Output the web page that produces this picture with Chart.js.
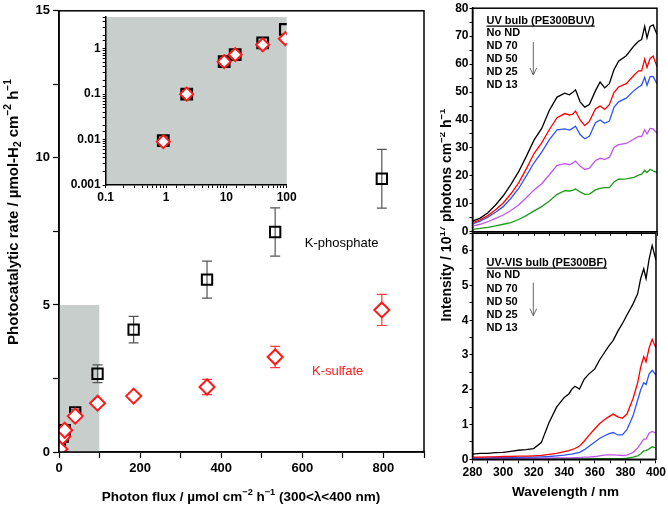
<!DOCTYPE html>
<html>
<head>
<meta charset="utf-8">
<script src="https://cdn.jsdelivr.net/npm/chart.js@4.4.1/dist/chart.umd.min.js"></script>
<style>
  body { margin: 0; background: #fff; }
  #wrap { position: relative; width: 668px; height: 506px; overflow: hidden; }
  canvas { position: absolute; }
</style>
</head>
<body>
<div id="wrap">
  <canvas id="mainChart" width="440" height="506" style="left:0;top:0"></canvas>
  <canvas id="insetChart" width="300" height="215" style="left:0;top:0"></canvas>
  <canvas id="specBottom" width="228" height="506" style="left:440px;top:0"></canvas>
  <canvas id="specTop" width="228" height="240" style="left:440px;top:0"></canvas>
</div>
<script>
// MAIN PLOT DATA - photon flux vs H2 rate
var fluxX = [0.9, 2.2, 9.2, 14, 40, 95, 184, 365, 533, 796];
var phosRate = [0.0095, 0.1, 0.52, 0.74, 1.35, 2.66, 4.16, 5.86, 7.48, 9.29];
var phosErr = [0.001, 0.01, 0.04, 0.06, 0.08, 0.3, 0.45, 0.63, 0.82, 1.0];
var sulfRate = [0.009, 0.1, 0.52, 0.74, 1.22, 1.66, 1.9, 2.21, 3.23, 4.83];
var sulfErr = [0.001, 0.01, 0.04, 0.05, 0.06, 0.1, 0.12, 0.26, 0.36, 0.53];
var shadeX = [0, 100];
var shadeTop = 5;

// SPECTRA - UV bulb (PE300BUV)
var topWl = [280, 285, 290, 295, 300, 305, 310, 315, 320, 325, 330, 335, 340, 343, 345, 347, 350, 353, 356, 360, 363, 366, 369, 372, 375, 380, 385, 388, 390, 392, 393.5, 395.5, 397.5, 400];
var topNoND = [3.8, 4.9, 6.8, 9.6, 12.9, 17, 21.5, 27, 32.8, 37, 43.5, 48.2, 49.6, 49, 49.8, 50.8, 46.5, 44.6, 45.5, 50.5, 53.6, 51.5, 53, 58, 61, 63, 66.5, 68.2, 68.8, 73.5, 69.4, 73.5, 74, 70.6];
var topND70 = [3.2, 4.3, 5.8, 7.9, 10.3, 13.6, 17.5, 22.5, 28, 31.8, 36.6, 40.8, 42.3, 41.8, 42, 43.2, 40, 38, 39.5, 44, 45, 43.8, 45.5, 49.8, 51.8, 53, 56, 57.6, 57.6, 61.8, 58.8, 62, 62.9, 59];
var topND50 = [2.8, 3.8, 5.2, 7, 9, 12, 15.5, 20, 24.7, 28.5, 33, 36.5, 36.8, 36.4, 37, 37.8, 34.8, 33.3, 34.2, 39, 40, 38.8, 39.6, 44.5, 46.5, 47.8, 50.5, 51.8, 52.4, 55.3, 52.4, 55.5, 55.6, 52.9];
var topND25 = [2.0, 2.7, 3.6, 4.8, 6, 7.6, 9.6, 12.2, 15, 17.2, 20.4, 23.8, 24.4, 24, 24.5, 25.3, 23.5, 22.3, 22.8, 25.5, 26.3, 25.9, 26.6, 30.2, 31.2, 31.6, 33.2, 34.1, 34.1, 36.5, 35, 37, 36.8, 35.3];
var topND13 = [0.9, 1.2, 1.6, 2.1, 2.7, 3.3, 4.4, 5.8, 7.5, 9, 11, 13.4, 14.7, 14.6, 14.8, 15.3, 14.3, 13.4, 13.5, 15, 15.5, 15.8, 15.8, 17.8, 18.8, 18.9, 19.5, 20.3, 20.6, 22, 21.2, 22.4, 21.8, 21.2];

// SPECTRA - UV-VIS bulb (PE300BF)
var botWl = [280, 285, 290, 295, 300, 305, 310, 315, 320, 325, 330, 335, 340, 343, 345, 347, 350, 353, 356, 360, 363, 366, 369, 372, 375, 378, 381, 385, 388, 390, 392, 393.5, 395.5, 397.5, 400];
var botNoND = [0.15, 0.17, 0.17, 0.19, 0.2, 0.23, 0.26, 0.28, 0.31, 0.48, 1.05, 1.5, 1.78, 1.88, 2.02, 2.1, 2.02, 2.3, 2.45, 2.6, 2.85, 3.05, 3.25, 3.42, 3.68, 3.9, 4.15, 4.47, 4.76, 5.2, 5.48, 5.2, 5.76, 6.15, 5.72];
var botND70 = [0.06, 0.06, 0.07, 0.07, 0.08, 0.08, 0.09, 0.09, 0.1, 0.11, 0.14, 0.17, 0.22, 0.25, 0.28, 0.31, 0.38, 0.52, 0.68, 0.88, 1.02, 1.13, 1.22, 1.3, 1.22, 1.18, 1.3, 1.75, 2.2, 2.65, 2.95, 2.8, 3.2, 3.45, 3.2];
var botND50 = [0.04, 0.04, 0.04, 0.05, 0.05, 0.05, 0.05, 0.06, 0.06, 0.07, 0.08, 0.1, 0.12, 0.14, 0.15, 0.17, 0.2, 0.27, 0.37, 0.5, 0.6, 0.67, 0.73, 0.77, 0.7, 0.7, 0.85, 1.25, 1.7, 2.0, 2.2, 2.15, 2.45, 2.56, 2.42];
var botND25 = [0.02, 0.02, 0.02, 0.02, 0.02, 0.02, 0.03, 0.03, 0.03, 0.03, 0.03, 0.04, 0.04, 0.04, 0.04, 0.05, 0.05, 0.06, 0.06, 0.08, 0.1, 0.12, 0.13, 0.13, 0.12, 0.11, 0.12, 0.2, 0.32, 0.45, 0.58, 0.58, 0.75, 0.8, 0.75];
var botND13 = [0.01, 0.01, 0.01, 0.01, 0.01, 0.01, 0.01, 0.01, 0.01, 0.01, 0.01, 0.01, 0.01, 0.01, 0.01, 0.01, 0.01, 0.01, 0.01, 0.02, 0.02, 0.02, 0.02, 0.02, 0.02, 0.02, 0.03, 0.06, 0.1, 0.16, 0.24, 0.25, 0.3, 0.36, 0.33];

var legendNames = ["No ND", "ND 70", "ND 50", "ND 25", "ND 13"];
var lineColors = ["#000000", "#ff0000", "#2f55f5", "#c255ee", "#1f9a1f"];

var FONT = '"Liberation Sans", Arial, sans-serif';
var SHADE = "#c7cecb";

// helpers
function pts(xs, ys) {
  return xs.map(function (x, i) { return { x: x, y: ys[i] }; });
}
function errPts(xs, ys, es) {
  var out = [];
  xs.forEach(function (x, i) {
    out.push({ x: x, y: ys[i] - es[i] });
    out.push({ x: x, y: ys[i] + es[i] });
    out.push({ x: x, y: null });
  });
  return out;
}
function drawRich(ctx, parts, x, y, size, angle) {
  ctx.save();
  ctx.translate(x, y);
  ctx.rotate(angle || 0);
  ctx.textBaseline = "middle";
  ctx.textAlign = "left";
  ctx.fillStyle = "#000";
  var total = 0;
  parts.forEach(function (p) {
    ctx.font = "bold " + (p[1] ? size * 0.68 : size) + "px " + FONT;
    total += ctx.measureText(p[0]).width;
  });
  var cx = -total / 2;
  parts.forEach(function (p) {
    ctx.font = "bold " + (p[1] ? size * 0.68 : size) + "px " + FONT;
    var dy = p[1] === "sup" ? -size * 0.35 : (p[1] === "sub" ? size * 0.3 : 0);
    ctx.fillText(p[0], cx, dy);
    cx += ctx.measureText(p[0]).width;
  });
  ctx.restore();
}
var framePlugin = {
  id: "frame",
  afterDraw: function (chart) {
    var a = chart.chartArea, ctx = chart.ctx;
    ctx.save();
    ctx.strokeStyle = "#000";
    ctx.lineWidth = 1.5;
    ctx.strokeRect(a.left, a.top, a.right - a.left, a.bottom - a.top);
    ctx.restore();
  }
};
function fixW(w) { return function (s) { s.width = w; }; }
function fixH(h) { return function (s) { s.height = h; }; }
function tickFont(sz) { return { family: FONT, size: sz, weight: "bold" }; }

// MAIN CHART
new Chart(document.getElementById("mainChart"), {
  type: "scatter",
  data: {
    datasets: [
      {
        label: "K-sulfate", data: pts(fluxX, sulfRate), pointStyle: "rectRot",
        pointRadius: 7.5, borderColor: "#ff1a1a", backgroundColor: "#fff", borderWidth: 2, clip: 0
      },
      {
        label: "K-phosphate", data: pts(fluxX, phosRate), pointStyle: "rect",
        pointRadius: 7.3, borderColor: "#000", backgroundColor: "rgba(0,0,0,0)", borderWidth: 2, clip: 0
      },
      {
        type: "line", data: errPts(fluxX, sulfRate, sulfErr), borderColor: "#ff3b3b", borderWidth: 1.2,
        pointStyle: "line", pointRadius: 5, pointBorderColor: "#ff3b3b", pointBorderWidth: 1.2, clip: 0
      },
      {
        type: "line", data: errPts(fluxX, phosRate, phosErr), borderColor: "#555", borderWidth: 1.2,
        pointStyle: "line", pointRadius: 5, pointBorderColor: "#555", pointBorderWidth: 1.2, clip: 0
      },
      {
        type: "line", data: pts(shadeX, [shadeTop, shadeTop]), fill: "origin", backgroundColor: SHADE,
        borderWidth: 0, pointRadius: 0
      }
    ]
  },
  options: {
    responsive: false, animation: false,
    layout: { padding: { top: 10, right: 16, left: 0, bottom: 0 } },
    plugins: { legend: { display: false }, tooltip: { enabled: false } },
    scales: {
      x: {
        type: "linear", min: 0, max: 900, afterFit: fixH(54),
        border: { color: "#000", width: 1.5 },
        grid: { drawOnChartArea: false, color: "#000", tickLength: 6, tickWidth: 1.2 },
        ticks: {
          stepSize: 100, color: "#000", font: tickFont(13), padding: 3, maxRotation: 0, autoSkip: false,
          callback: function (v) { return v % 200 === 0 ? v : ""; }
        }
      },
      y: {
        min: 0, max: 15, afterFit: fixW(59),
        border: { color: "#000", width: 1.5 },
        grid: { drawOnChartArea: false, color: "#000", tickLength: 6, tickWidth: 1.2 },
        ticks: {
          stepSize: 2.5, color: "#000", font: tickFont(13), padding: 3, autoSkip: false,
          callback: function (v) { return v % 5 === 0 ? v : ""; }
        }
      }
    }
  },
  plugins: [framePlugin, {
    id: "mainText",
    afterDraw: function (chart) {
      var ctx = chart.ctx, sx = chart.scales.x, sy = chart.scales.y;
      ctx.save();
      ctx.font = "13px " + FONT;
      ctx.textAlign = "center";
      ctx.textBaseline = "middle";
      ctx.fillStyle = "#000";
      ctx.fillText("K-phosphate", sx.getPixelForValue(697), sy.getPixelForValue(7.1));
      ctx.fillStyle = "#ff1a1a";
      ctx.fillText("K-sulfate", sx.getPixelForValue(687), sy.getPixelForValue(2.73));
      ctx.restore();
      drawRich(ctx, [["Photon flux / \u00b5mol cm"], ["\u22122", "sup"], [" h"], ["\u22121", "sup"], [" (300<\u03bb<400 nm)"]], 241, 497, 13.5);
      drawRich(ctx, [["Photocatalytic rate / \u00b5mol-H"], ["2", "sub"], [" cm"], ["\u22122", "sup"], [" h"], ["\u22121", "sup"]], 13.5, 212, 15, -Math.PI / 2);
    }
  }]
});

// INSET (log-log)
var insetX = fluxX.slice(0, 6);
new Chart(document.getElementById("insetChart"), {
  type: "scatter",
  data: {
    datasets: [
      {
        data: pts(insetX, sulfRate), pointStyle: "rectRot", pointRadius: 6.5,
        borderColor: "#ff1a1a", backgroundColor: "#fff", borderWidth: 2, clip: 0
      },
      {
        data: pts(insetX, phosRate), pointStyle: "rect", pointRadius: 7.5,
        borderColor: "#000", backgroundColor: "rgba(0,0,0,0)", borderWidth: 2.2, clip: 0
      }
    ]
  },
  options: {
    responsive: false, animation: false,
    layout: { padding: { top: 17, right: 13.3, left: 0, bottom: 0 } },
    plugins: { legend: { display: false }, tooltip: { enabled: false } },
    scales: {
      x: {
        type: "logarithmic", min: 0.1, max: 100, afterFit: fixH(30),
        border: { color: "#000", width: 1.5 },
        grid: { drawOnChartArea: false, color: "#000", tickLength: 3 },
        ticks: {
          color: "#000", font: tickFont(12), padding: 2, autoSkip: false, maxRotation: 0,
          callback: function (v) {
            var l = Math.log10(v);
            if (Math.abs(l - Math.round(l)) > 1e-6) return "";
            return l >= 0 ? String(Math.round(v)) : v.toFixed(-Math.round(l));
          }
        }
      },
      y: {
        type: "logarithmic", min: 0.001, max: 5, afterFit: fixW(105.7),
        border: { color: "#000", width: 1.5 },
        grid: { drawOnChartArea: false, color: "#000", tickLength: 3 },
        ticks: {
          color: "#000", font: tickFont(12), padding: 2, autoSkip: false,
          callback: function (v) {
            var l = Math.log10(v);
            if (Math.abs(l - Math.round(l)) > 1e-6) return "";
            return l >= 0 ? String(Math.round(v)) : v.toFixed(-Math.round(l));
          }
        }
      }
    }
  },
  plugins: [{
    id: "insetBg",
    beforeDraw: function (chart) {
      var a = chart.chartArea, ctx = chart.ctx;
      ctx.save();
      ctx.fillStyle = SHADE;
      ctx.fillRect(a.left, a.top, a.right - a.left, a.bottom - a.top);
      ctx.restore();
    }
  }]
});

// SPECTRA charts
function specSets(xs, series) {
  return series.map(function (s, i) {
    return {
      data: pts(xs, s), borderColor: lineColors[i], borderWidth: 1.3,
      pointRadius: 0, tension: 0, fill: false
    };
  });
}
function legendPlugin(title, yTitle, yRows, arrowY1, arrowY2) {
  return {
    id: "specLegend",
    afterDraw: function (chart) {
      var ctx = chart.ctx, x0 = 46.5;
      ctx.save();
      ctx.fillStyle = "#000";
      ctx.font = "bold 11px " + FONT;
      ctx.textAlign = "left";
      ctx.textBaseline = "middle";
      ctx.fillText(title, x0, yTitle);
      var w = ctx.measureText(title).width;
      ctx.strokeStyle = "#000";
      ctx.lineWidth = 1.2;
      ctx.beginPath();
      ctx.moveTo(x0, yTitle + 5.5);
      ctx.lineTo(x0 + w, yTitle + 5.5);
      ctx.stroke();
      legendNames.forEach(function (n, i) { ctx.fillText(n, x0, yRows[i]); });
      ctx.strokeStyle = "#666";
      ctx.lineWidth = 1;
      ctx.beginPath();
      ctx.moveTo(93.3, arrowY1);
      ctx.lineTo(93.3, arrowY2);
      ctx.moveTo(90, arrowY2 - 7);
      ctx.lineTo(93.3, arrowY2);
      ctx.lineTo(96.6, arrowY2 - 7);
      ctx.stroke();
      ctx.restore();
    }
  };
}

new Chart(document.getElementById("specBottom"), {
  type: "line",
  data: { datasets: specSets(botWl, [botNoND, botND70, botND50, botND25, botND13]) },
  options: {
    responsive: false, animation: false,
    layout: { padding: { top: 233.3, right: 11, left: 0, bottom: 0 } },
    plugins: { legend: { display: false }, tooltip: { enabled: false } },
    scales: {
      x: {
        type: "linear", min: 280, max: 400, afterFit: fixH(46.7),
        border: { color: "#000", width: 1.5 },
        grid: { drawOnChartArea: false, color: "#000", tickLength: 4 },
        ticks: {
          stepSize: 10, color: "#000", font: tickFont(12), padding: 2, autoSkip: false, maxRotation: 0,
          callback: function (v) { return v % 20 === 0 ? v : ""; }
        }
      },
      y: {
        min: 0, max: 6.5, afterFit: fixW(32.5),
        border: { color: "#000", width: 1.5 },
        grid: { drawOnChartArea: false, color: "#000", tickLength: 3 },
        ticks: {
          stepSize: 0.5, color: "#000", font: tickFont(12), padding: 1, autoSkip: false,
          callback: function (v) { return v % 1 === 0 ? v : ""; }
        }
      }
    }
  },
  plugins: [framePlugin,
    legendPlugin("UV-VIS bulb (PE300BF)", 262.7, [275.3, 288.7, 301.7, 315, 328], 282.7, 315.7),
    {
      id: "specTitles",
      afterDraw: function (chart) {
        drawRich(chart.ctx, [["Wavelength / nm"]], 125.5, 492, 13.5);
        drawRich(chart.ctx, [["Intensity / 10"], ["17", "sup"], [" photons cm"], ["\u22122", "sup"], [" h"], ["\u22121", "sup"]], 7, 215, 14, -Math.PI / 2);
      }
    }]
});

new Chart(document.getElementById("specTop"), {
  type: "line",
  data: { datasets: specSets(topWl, [topNoND, topND70, topND50, topND25, topND13]) },
  options: {
    responsive: false, animation: false,
    layout: { padding: { top: 6.7, right: 11, left: 0, bottom: 0 } },
    plugins: { legend: { display: false }, tooltip: { enabled: false } },
    scales: {
      x: {
        type: "linear", min: 280, max: 400, afterFit: fixH(6.7),
        border: { color: "#000", width: 1.5 },
        grid: { drawOnChartArea: false, color: "#000", tickLength: 4 },
        ticks: { stepSize: 10, display: false }
      },
      y: {
        min: 0, max: 80, afterFit: fixW(32.5),
        border: { color: "#000", width: 1.5 },
        grid: { drawOnChartArea: false, color: "#000", tickLength: 3 },
        ticks: {
          stepSize: 5, color: "#000", font: tickFont(12), padding: 1, autoSkip: false,
          callback: function (v) { return v % 10 === 0 ? v : ""; }
        }
      }
    }
  },
  plugins: [framePlugin,
    legendPlugin("UV bulb (PE300BUV)", 20.7, [33.3, 46, 59, 72, 85.3], 42, 75)]
});
</script>
</body>
</html>
